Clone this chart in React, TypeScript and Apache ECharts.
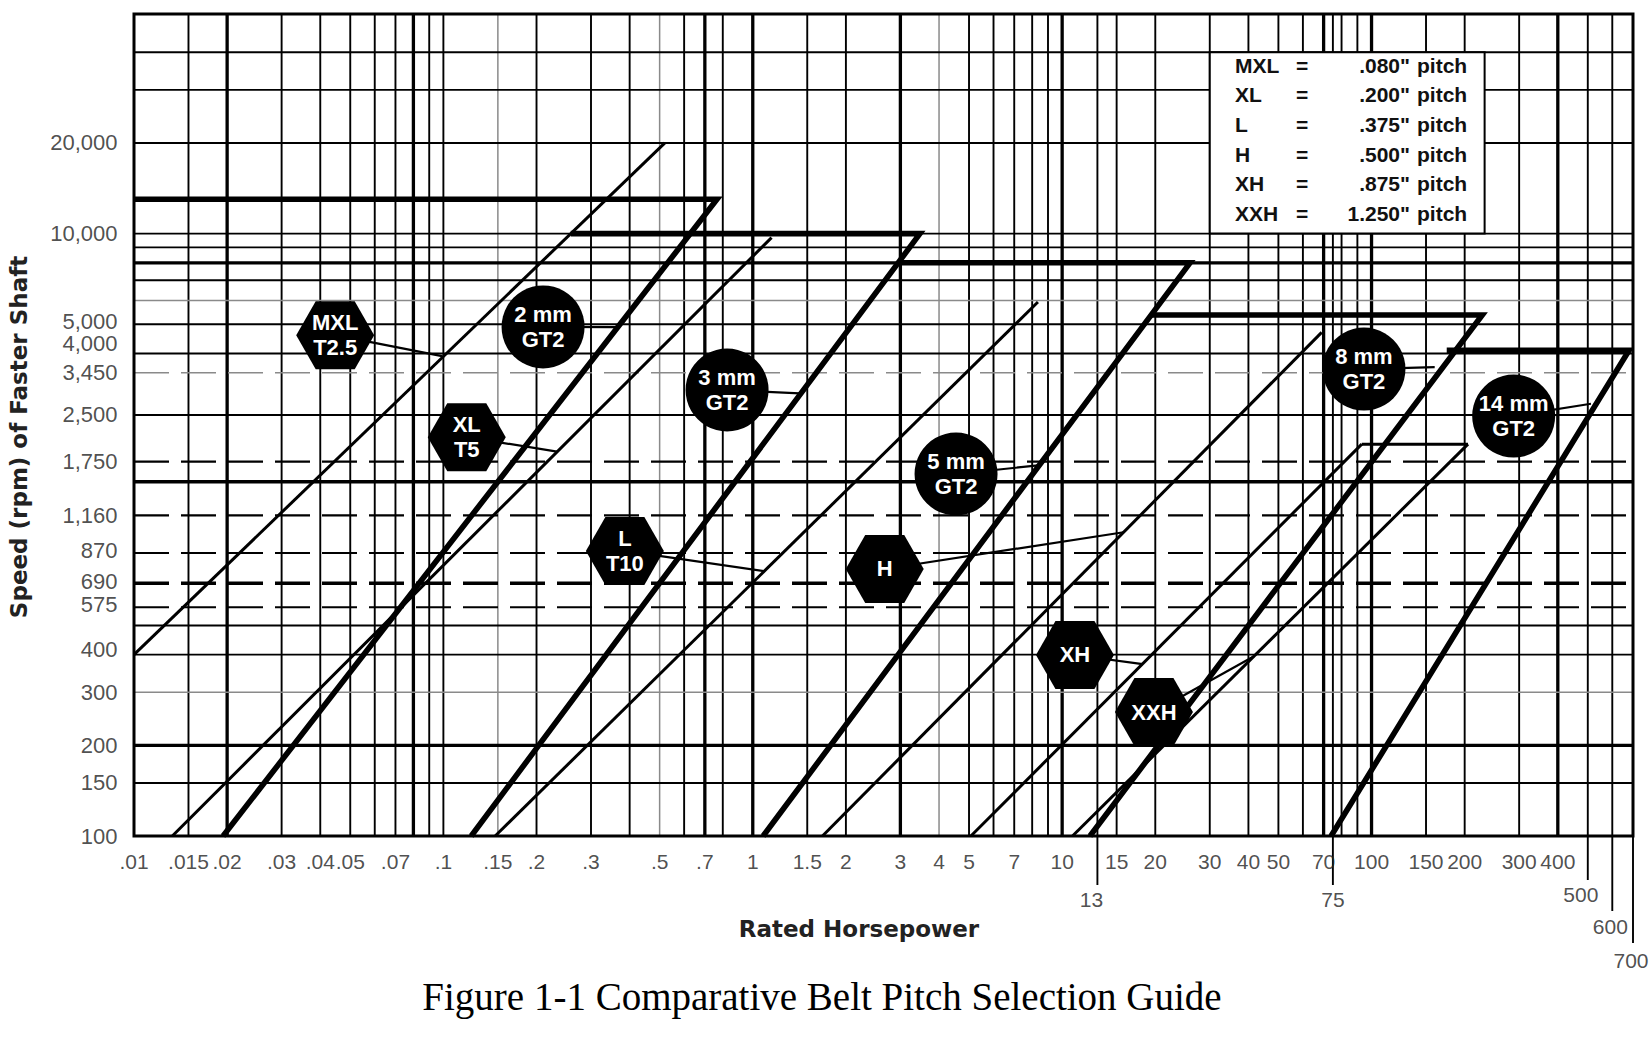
import React, { useEffect, useRef } from "react";
import * as echarts from "echarts";

// ---------- axis ranges ----------
const HP_MIN = 0.01;
const HP_MAX = 700;
const RPM_MIN = 100;
const RPM_MAX = 53600;

// ---------- tick labels ----------
const xTickValues = [0.01, 0.015, 0.02, 0.03, 0.04, 0.05, 0.07, 0.1, 0.15, 0.2, 0.3, 0.5, 0.7, 1, 1.5, 2, 3, 4, 5, 7, 10, 15, 20, 30, 40, 50, 70, 100, 150, 200, 300, 400];
const xTickLabels = [".01", ".015", ".02", ".03", ".04", ".05", ".07", ".1", ".15", ".2", ".3", ".5", ".7", "1", "1.5", "2", "3", "4", "5", "7", "10", "15", "20", "30", "40", "50", "70", "100", "150", "200", "300", "400"];
const xExtraTickValues = [13, 75, 500, 600, 700];
const xExtraTickLabels = ["13", "75", "500", "600", "700"];
const yTickValues = [20000, 10000, 5000, 4000, 3450, 2500, 1750, 1160, 870, 690, 575, 400, 300, 200, 150, 100];
const yTickLabels = ["20,000", "10,000", "5,000", "4,000", "3,450", "2,500", "1,750", "1,160", "870", "690", "575", "400", "300", "200", "150", "100"];

// ---------- grid lines ----------
const vGridThin = [0.015, 0.03, 0.04, 0.05, 0.06, 0.07, 0.09, 0.1, 0.2, 0.3, 0.4, 0.6, 0.8, 1.5, 2, 5, 6, 7, 8, 9, 13, 15, 20, 30, 40, 50, 60, 75, 80, 90, 150, 200, 300, 500, 600];
const vGridGray = [0.15, 0.5, 4];
const vGridThick = [0.02, 0.08, 0.7, 1, 3, 10, 70, 100, 400];
const hGridThin = [150, 400, 500, 2500, 4000, 5000, 7000, 9000, 10000, 20000, 30000, 40000];
const hGridGray = [300, 6000];
const hGridThick = [200, 1500, 8000];
const hGridDashed = [575, 870, 1160, 1750];
const hGridDashedHeavy = [690];
const hGridDashedGray = [3450];

// ---------- belt lines (hp, rpm) ----------
const mxlLine = [[0.01, 400], [0.52, 20000]];
const xlLine = [[0.0133, 100], [1.15, 9700]];
const lLine = [[0.147, 100], [8.35, 5930]];
const hLine = [[1.68, 100], [69, 4700]];
const xhLine = [[5.07, 100], [93, 2000]];
const xxhLine = [[10.8, 100], [205, 2000]];
const xhTopLine = [[93, 2000], [205, 2000]];

const gt2mmLine = [[0.01, 13000], [0.766, 13000], [0.0194, 100]];
const gt3mmLine = [[0.258, 10000], [3.47, 10000], [0.123, 100]];
const gt5mmLine = [[2.95, 8000], [25.9, 8000], [1.08, 100]];
const gt8mmLine = [[19.5, 5370], [228, 5370], [12.3, 100]];
const gt14mmLine = [[175, 4100], [680, 4100], [74, 100]];

// ---------- badges ----------
const hexNames = ["MXL\nT2.5", "XL\nT5", "L\nT10", "H", "XH", "XXH"];
const hexPos = [[0.0447, 4600], [0.119, 2110], [0.386, 884], [2.67, 770], [11.0, 399], [19.8, 258]];
const hexTargets = [[0.099, 3920], [0.233, 1890], [1.09, 757], [15.8, 1020], [18.2, 372], [41.7, 395]];

const circleNames = ["2 mm\nGT2", "3 mm\nGT2", "5 mm\nGT2", "8 mm\nGT2", "14 mm\nGT2"];
const circlePos = [[0.21, 4900], [0.826, 3026], [4.54, 1592], [94.5, 3550], [288, 2479]];
const circleTargets = [[0.36, 4890], [1.42, 2950], [8.35, 1700], [160, 3605], [512, 2723]];

// ---------- legend box ----------
const legendBox = [[30, 40000, 232, 10000]];
const legendNames = ["MXL", "XL", "L", "H", "XH", "XXH"];
const legendPitches = [".080\"", ".200\"", ".375\"", ".500\"", ".875\"", "1.250\""];

// ---------- styles (not data) ----------
const FONT = '"Liberation Sans", Arial, Helvetica, sans-serif';
const HEX_PATH = "path://M25,0L75,0L100,50L75,100L25,100L0,50Z";
const extraTickStyle: Record<string, { len: number; dist: number; dx: number }> = {
  "13": { len: 49, dist: 52, dx: -6 },
  "75": { len: 49, dist: 52, dx: 0 },
  "500": { len: 44, dist: 47, dx: -7 },
  "600": { len: 75, dist: 79, dx: -2 },
  "700": { len: 107, dist: 113, dx: -2 },
};
const yLabelNudge: Record<string, number> = { "5,000": -3, "4,000": -10, "400": -5, "575": -3, "690": -2, "870": -3 };

function vLines(values: number[], color: string, width: number, z: number, dash?: number[]) {
  return {
    type: "custom",
    coordinateSystem: "cartesian2d",
    silent: true,
    clip: false,
    z,
    data: values.map((v) => [v, RPM_MIN]),
    renderItem: (_p: any, api: any) => {
      const v = api.value(0);
      const a = api.coord([v, RPM_MIN]);
      const b = api.coord([v, RPM_MAX]);
      return {
        type: "line",
        shape: { x1: a[0], y1: a[1], x2: b[0], y2: b[1] },
        style: { stroke: color, lineWidth: width, lineDash: dash, fill: null },
      };
    },
  };
}

function hLines(values: number[], color: string, width: number, z: number, dash?: number[]) {
  return {
    type: "custom",
    coordinateSystem: "cartesian2d",
    silent: true,
    clip: false,
    z,
    data: values.map((v) => [HP_MIN, v]),
    renderItem: (_p: any, api: any) => {
      const v = api.value(1);
      const a = api.coord([HP_MIN, v]);
      const b = api.coord([HP_MAX, v]);
      return {
        type: "line",
        shape: { x1: a[0], y1: a[1], x2: b[0], y2: b[1] },
        style: { stroke: color, lineWidth: width, lineDash: dash, fill: null },
      };
    },
  };
}

function polyline(points: number[][], width: number, z = 3) {
  return {
    type: "line",
    data: points,
    symbol: "none",
    showSymbol: false,
    silent: true,
    clip: false,
    z,
    lineStyle: { color: "#000", width, join: "miter", cap: "butt", opacity: 1 },
  };
}

function buildOption() {
  const series: any[] = [];

  // grid lines
  series.push(vLines(vGridThin, "#000", 1.9, 1));
  series.push(vLines(vGridGray, "#8a8a8a", 1.5, 1));
  series.push(vLines(vGridThick, "#000", 3.3, 1));
  series.push(hLines(hGridThin, "#000", 1.9, 1));
  series.push(hLines(hGridGray, "#8a8a8a", 1.5, 1));
  series.push(hLines(hGridThick, "#000", 3.3, 1));
  series.push(hLines(hGridDashed, "#000", 2.1, 1, [35, 12]));
  series.push(hLines(hGridDashedHeavy, "#000", 3.5, 1, [35, 12]));
  series.push(hLines(hGridDashedGray, "#8a8a8a", 1.6, 1, [35, 12]));

  // legend box
  series.push({
    type: "custom",
    coordinateSystem: "cartesian2d",
    silent: true,
    clip: false,
    z: 2,
    data: legendBox,
    renderItem: (_p: any, api: any) => {
      const a = api.coord([api.value(0), api.value(1)]);
      const b = api.coord([api.value(2), api.value(3)]);
      return {
        type: "rect",
        shape: { x: a[0], y: a[1], width: b[0] - a[0], height: b[1] - a[1] },
        style: { fill: "#fff", stroke: "#000", lineWidth: 2 },
      };
    },
  });

  // belt lines
  [mxlLine, xlLine, lLine, hLine, xhLine, xxhLine, xhTopLine].forEach((l) => series.push(polyline(l, 3)));
  [gt2mmLine, gt3mmLine, gt5mmLine, gt8mmLine, gt14mmLine].forEach((l) => series.push(polyline(l, 5.6)));

  // connectors
  hexPos.forEach((p, i) => series.push(polyline([p, hexTargets[i]], 2.2, 4)));
  circlePos.forEach((p, i) => series.push(polyline([p, circleTargets[i]], 2.2, 4)));

  const badgeLabel = {
    show: true,
    position: "inside",
    formatter: "{b}",
    color: "#fff",
    fontWeight: "bold",
    fontSize: 22,
    lineHeight: 25,
    fontFamily: FONT,
  };

  // badges
  series.push({
    type: "scatter",
    symbol: HEX_PATH,
    symbolSize: [78, 68],
    silent: true,
    clip: false,
    z: 10,
    itemStyle: { color: "#000", opacity: 1 },
    data: hexPos.map((p, i) => ({ value: p, name: hexNames[i] })),
    label: badgeLabel,
  });
  series.push({
    type: "scatter",
    symbol: "circle",
    symbolSize: 83,
    silent: true,
    clip: false,
    z: 10,
    itemStyle: { color: "#000", opacity: 1 },
    data: circlePos.map((p, i) => ({ value: p, name: circleNames[i] })),
    label: badgeLabel,
  });

  // x tick labels (main row)
  series.push({
    type: "scatter",
    symbolSize: 1,
    silent: true,
    clip: false,
    z: 5,
    itemStyle: { color: "rgba(0,0,0,0)" },
    data: xTickValues.map((v, i) => ({ value: [v, RPM_MIN], name: xTickLabels[i] })),
    label: {
      show: true,
      position: "bottom",
      distance: 14,
      formatter: "{b}",
      color: "#222",
      fontSize: 21,
      fontFamily: FONT,
    },
  });

  // extra x ticks (drop lines)
  series.push({
    type: "custom",
    coordinateSystem: "cartesian2d",
    silent: true,
    clip: false,
    z: 5,
    data: xExtraTickValues.map((v) => [v, RPM_MIN]),
    renderItem: (params: any, api: any) => {
      const a = api.coord([api.value(0), RPM_MIN]);
      const st = extraTickStyle[xExtraTickLabels[params.dataIndex]];
      return {
        type: "line",
        shape: { x1: a[0], y1: a[1], x2: a[0], y2: a[1] + st.len },
        style: { stroke: "#000", lineWidth: 1.9, fill: null },
      };
    },
  });
  series.push({
    type: "scatter",
    symbolSize: 1,
    silent: true,
    clip: false,
    z: 5,
    itemStyle: { color: "rgba(0,0,0,0)" },
    data: xExtraTickValues.map((v, i) => {
      const st = extraTickStyle[xExtraTickLabels[i]];
      return { value: [v, RPM_MIN], name: xExtraTickLabels[i], label: { distance: st.dist, offset: [st.dx, 0] } };
    }),
    label: {
      show: true,
      position: "bottom",
      formatter: "{b}",
      color: "#222",
      fontSize: 21,
      fontFamily: FONT,
    },
  });

  // y tick labels
  series.push({
    type: "scatter",
    symbolSize: 1,
    silent: true,
    clip: false,
    z: 5,
    itemStyle: { color: "rgba(0,0,0,0)" },
    data: yTickValues.map((v, i) => ({
      value: [HP_MIN, v],
      name: yTickLabels[i],
      label: { offset: [0, yLabelNudge[yTickLabels[i]] || 0] },
    })),
    label: {
      show: true,
      position: "left",
      distance: 16,
      formatter: "{b}",
      color: "#222",
      fontSize: 22,
      fontFamily: FONT,
    },
  });

  const legendFont = `bold 21px ${FONT}`;
  const graphic: any[] = [];
  legendNames.forEach((n, i) => {
    const y = 65 + i * 29.7;
    graphic.push({ type: "text", x: 1235, y, z: 20, style: { text: n, font: legendFont, fill: "#111", align: "left", verticalAlign: "middle", textAlign: "left", textVerticalAlign: "middle" } });
    graphic.push({ type: "text", x: 1302, y, z: 20, style: { text: "=", font: legendFont, fill: "#111", align: "center", verticalAlign: "middle", textAlign: "center", textVerticalAlign: "middle" } });
    graphic.push({ type: "text", x: 1410, y, z: 20, style: { text: legendPitches[i], font: legendFont, fill: "#111", align: "right", verticalAlign: "middle", textAlign: "right", textVerticalAlign: "middle" } });
    graphic.push({ type: "text", x: 1417, y, z: 20, style: { text: "pitch", font: legendFont, fill: "#111", align: "left", verticalAlign: "middle", textAlign: "left", textVerticalAlign: "middle" } });
  });
  graphic.push({
    type: "text",
    x: 859,
    y: 929,
    style: { text: "Rated Horsepower", font: 'bold 23px "DejaVu Sans", Arial, sans-serif', fill: "#222", align: "center", verticalAlign: "middle", textAlign: "center", textVerticalAlign: "middle" },
  });
  graphic.push({
    type: "text",
    x: 19,
    y: 437,
    rotation: Math.PI / 2,
    style: { text: "Speed (rpm) of Faster Shaft", font: 'bold 23px "DejaVu Sans", Arial, sans-serif', fill: "#222", align: "center", verticalAlign: "middle", textAlign: "center", textVerticalAlign: "middle" },
  });
  graphic.push({
    type: "text",
    x: 822,
    y: 996,
    style: { text: "Figure 1-1 Comparative Belt Pitch Selection Guide", font: '39px "Liberation Serif", "Times New Roman", serif', fill: "#000", align: "center", verticalAlign: "middle", textAlign: "center", textVerticalAlign: "middle" },
  });

  return {
    animation: false,
    backgroundColor: "#fff",
    grid: { left: 134, right: 19, top: 14, bottom: 228, show: true, borderColor: "#000", borderWidth: 3, backgroundColor: "transparent", z: 6 },
    xAxis: {
      type: "log",
      logBase: 10,
      min: HP_MIN,
      max: HP_MAX,
      axisLine: { show: false },
      axisTick: { show: false },
      axisLabel: { show: false },
      splitLine: { show: false },
      minorSplitLine: { show: false },
    },
    yAxis: {
      type: "log",
      logBase: 10,
      min: RPM_MIN,
      max: RPM_MAX,
      axisLine: { show: false },
      axisTick: { show: false },
      axisLabel: { show: false },
      splitLine: { show: false },
      minorSplitLine: { show: false },
    },
    series,
    graphic,
  };
}

export default function App() {
  const ref = useRef<HTMLDivElement>(null);
  useEffect(() => {
    if (!ref.current) return;
    const chart = echarts.init(ref.current, undefined, { renderer: "svg" });
    chart.setOption(buildOption() as any);
    return () => chart.dispose();
  }, []);
  return (
    <div
      ref={ref}
      style={{ position: "fixed", left: 0, top: 0, width: 1652, height: 1064, background: "#fff" }}
    />
  );
}
